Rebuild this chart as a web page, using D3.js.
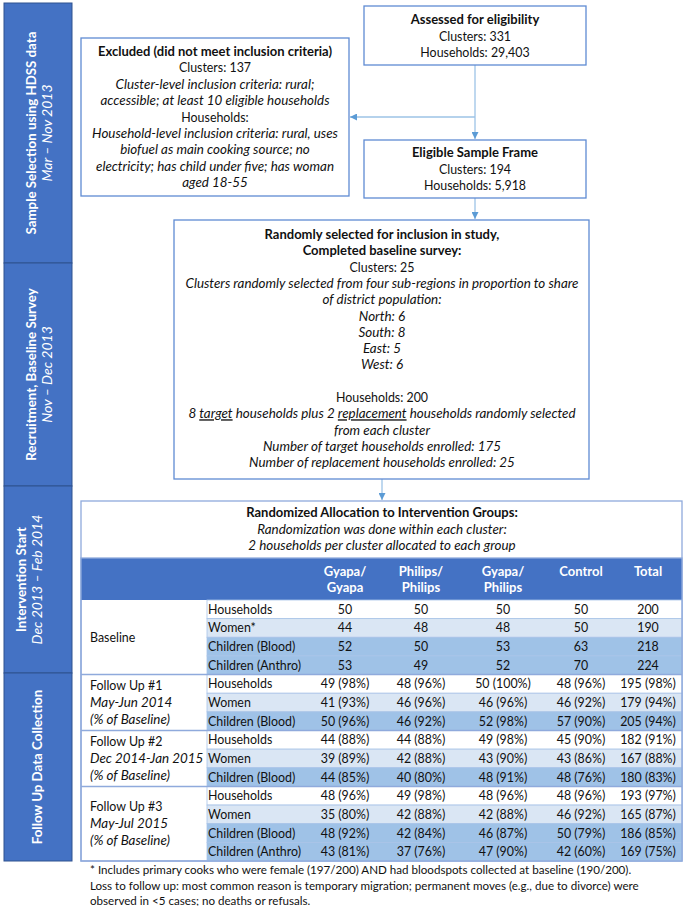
<!DOCTYPE html>
<html><head><meta charset="utf-8">
<script src="https://cdn.jsdelivr.net/npm/d3@7"></script>
<style>body{margin:0;background:#fff}svg{display:block}text{font-family:Lato,"Open Sans",sans-serif;fill:#111}</style>
</head><body>
<script>
// ---------- DATA ----------
const sidebarTitles = ["Sample Selection using HDSS data","Recruitment, Baseline Survey","Intervention Start","Follow Up Data Collection"];
const sidebarSubs = ["Mar – Nov 2013","Nov – Dec 2013","Dec 2013 – Feb 2014",""];

const assessedLines = [["Assessed for eligibility","b"],["Clusters: 331",""],["Households: 29,403",""]];
const eligibleLines = [["Eligible Sample Frame","b"],["Clusters: 194",""],["Households: 5,918",""]];
const excludedLines = [["Excluded (did not meet inclusion criteria)","b"],["Clusters: 137",""],
  ["Cluster-level inclusion criteria: rural;","i"],["accessible; at least 10 eligible households","i"],
  ["Households:",""],["Household-level inclusion criteria: rural, uses","i"],["biofuel as main cooking source; no","i"],
  ["electricity; has child under five; has woman","i"],["aged 18-55","i"]];
const randomLines = [["Randomly selected for inclusion in study,","b"],["Completed baseline survey:","b"],["Clusters: 25",""],
  ["Clusters randomly selected from four sub-regions in proportion to share","i"],["of district population:","i"],
  ["North: 6","i"],["South: 8","i"],["East: 5","i"],["West: 6","i"],["",""],["Households: 200",""],
  ["8 |target| households plus 2 |replacement| households randomly selected","i"],["from each cluster","i"],
  ["Number of target households enrolled: 175","i"],["Number of replacement households enrolled: 25","i"]];
const allocLines = [["Randomized Allocation to Intervention Groups:","b"],["Randomization was done within each cluster:","i"],
  ["2 households per cluster allocated to each group","i"]];

const groupNames = [["Baseline"],["Follow Up #1","May-Jun 2014","(% of Baseline)"],["Follow Up #2","Dec 2014-Jan 2015","(% of Baseline)"],["Follow Up #3","May-Jul 2015","(% of Baseline)"]];
const columnHeaders = [["Gyapa/","Gyapa"],["Philips/","Philips"],["Gyapa/","Philips"],["Control"],["Total"]];
const measures = [["Households","Women*","Children (Blood)","Children (Anthro)"],["Households","Women","Children (Blood)"],["Households","Women","Children (Blood)"],["Households","Women","Children (Blood)","Children (Anthro)"]];
const baselineCounts = [[50,50,50,50,200],[44,48,48,50,190],[52,50,53,63,218],[53,49,52,70,224]];
const fu1Counts = [[49,48,50,48,195],[41,46,46,46,179],[50,46,52,57,205]];
const fu1Pct    = [[98,96,100,96,98],[93,96,96,92,94],[96,92,98,90,94]];
const fu2Counts = [[44,44,49,45,182],[39,42,43,43,167],[44,40,48,48,180]];
const fu2Pct    = [[88,88,98,90,91],[89,88,90,86,88],[85,80,91,76,83]];
const fu3Counts = [[48,49,48,48,193],[35,42,42,46,165],[48,42,46,50,186],[43,37,47,42,169]];
const fu3Pct    = [[96,98,96,96,97],[80,88,88,92,87],[92,84,87,79,85],[81,76,90,60,75]];
const footnotes = ["* Includes primary cooks who were female (197/200) AND had bloodspots collected at baseline (190/200).",
  "Loss to follow up: most common reason is temporary migration; permanent moves (e.g., due to divorce) were",
  "observed in <5 cases; no deaths or refusals."];

// ---------- DRAW ----------
const W=685,H=906, FS=12.4, FSB=13.0, FSI=13.4;
const svg=d3.select("body").append("svg").attr("width",W).attr("height",H);
const BLUE="#4472C4", BOX="#5F8BD3", ARROW="#9DC3E6", AHEAD="#5B9BD5";

svg.append("defs").append("marker").attr("id","ah").attr("viewBox","0 0 10 10").attr("refX",10).attr("refY",5)
  .attr("markerWidth",7).attr("markerHeight",7).attr("orient","auto-start-reverse").attr("markerUnits","userSpaceOnUse")
  .append("path").attr("d","M0,0L10,5L0,10Z").attr("fill",AHEAD);

// sidebar
const secY=[3,263,486,673,861];
const sb=svg.append("g");
sidebarTitles.forEach((t,i)=>{
  const y0=secY[i],y1=secY[i+1],cy=(y0+y1)/2;
  sb.append("rect").attr("x",4).attr("y",y0).attr("width",68).attr("height",y1-y0).attr("fill",BLUE).attr("stroke","#2F528F").attr("stroke-width",1);
  const hasSub=sidebarSubs[i]!=="";
  const tx=hasSub?(i===2?26:36):42;
  const g=sb.append("g").attr("transform",`translate(${tx},${cy}) rotate(-90)`);
  g.append("text").attr("text-anchor","middle").attr("font-weight","bold").attr("font-size",13.3).style("fill","#fff").text(t);
  if(hasSub) g.append("text").attr("y",16).attr("text-anchor","middle").attr("font-style","italic").attr("font-size",14).style("fill","#fff").text(sidebarSubs[i]);
});

const fsFor=s=>s==="b"?FSB:s==="i"?FSI:FS;
function writeLines(cx,y0,dy,arr){
  const g=svg.append("g");
  arr.forEach((l,k)=>{
    const t=g.append("text").attr("x",cx).attr("y",y0+k*dy).attr("text-anchor","middle").attr("font-size",fsFor(l[1]))
      .attr("font-weight",l[1]==="b"?"bold":"normal").attr("font-style",l[1]==="i"?"italic":"normal");
    l[0].split("|").forEach((p,j)=>{ const s=t.append("tspan").text(p); if(j%2===1) s.attr("text-decoration","underline"); });
  });
}
function box(x0,y0,x1,y1,stroke){
  svg.append("rect").attr("x",x0).attr("y",y0).attr("width",x1-x0).attr("height",y1-y0).attr("fill","#fff").attr("stroke",stroke||BOX).attr("stroke-width",1.3);
}
function arrow(pts){
  svg.append("path").attr("d",d3.line()(pts)).attr("fill","none").attr("stroke",ARROW).attr("stroke-width",1.3).attr("marker-end","url(#ah)");
}

// arrows
arrow([[475,65],[475,139]]);
arrow([[475,117],[350,117]]);
arrow([[475,198],[475,219]]);
arrow([[382,479],[382,500]]);

box(364,6,586,65); writeLines(475,24,16.5,assessedLines);
box(364,140,586,198); writeLines(475,157,16.5,eligibleLines);
box(81,38,349,196); writeLines(215,56,16.4,excludedLines);
box(174,220,589,479); writeLines(382,239,16.3,randomLines);

// table
const TX0=81,TX1=682,TY0=501,THead=558,TBody=600,TY1=861;
box(TX0,TY0,TX1,TY1,"#8FAADC");
writeLines(382,517,16.5,allocLines);
svg.append("rect").attr("x",TX0).attr("y",THead).attr("width",TX1-TX0).attr("height",TBody-THead).attr("fill",BLUE);
const colX=d3.scaleOrdinal().domain(d3.range(5)).range([345,421,503,581,648]);
columnHeaders.forEach((h,c)=>h.forEach((s,k)=>svg.append("text").attr("x",colX(c)).attr("y",576+k*16).attr("text-anchor","middle")
  .attr("font-weight","bold").attr("font-size",FSB).style("fill","#fff").text(s)));

const groupsCounts=[baselineCounts,fu1Counts,fu2Counts,fu3Counts];
const groupsPct=[null,fu1Pct,fu2Pct,fu3Pct];
const nRows=d3.sum(measures,m=>m.length);
const y=d3.scaleBand().domain(d3.range(nRows)).range([TBody,TY1]);
const rowFill=m=>m.startsWith("Households")?"#FFFFFF":m.startsWith("Women")?"#DAE6F4":"#9FC2E7";
let r=0;
const tb=svg.append("g");
measures.forEach((ms,gi)=>{
  const r0=r;
  ms.forEach((m,mi)=>{
    const yy=y(r);
    tb.append("rect").attr("x",207).attr("y",yy).attr("width",TX1-207).attr("height",y.bandwidth()).attr("fill",rowFill(m)).attr("stroke","#A9C4E8").attr("stroke-width",0.8);
    tb.append("text").attr("x",208).attr("y",yy+y.bandwidth()/2+4.5).attr("font-size",FS).text(m);
    groupsCounts[gi][mi].forEach((v,c)=>{
      const s=groupsPct[gi]?`${v} (${groupsPct[gi][mi][c]}%)`:String(v);
      tb.append("text").attr("x",colX(c)).attr("y",yy+y.bandwidth()/2+4.5).attr("text-anchor","middle").attr("font-size",FS).text(s);
    });
    r++;
  });
  const gy0=y(r0), gy1=y(r-1)+y.bandwidth(), gc=(gy0+gy1)/2;
  const nm=groupNames[gi];
  nm.forEach((s,k)=>tb.append("text").attr("x",90).attr("y",gc+4.5+(k-(nm.length-1)/2)*17).attr("font-size",k>0?FSI:FS)
    .attr("font-style",k>0?"italic":"normal").text(s));
  if(gi>0) tb.append("line").attr("x1",TX0).attr("x2",TX1).attr("y1",gy0).attr("y2",gy0).attr("stroke","#8FAADC").attr("stroke-width",1.5);
});
svg.append("rect").attr("x",TX0).attr("y",THead).attr("width",TX1-TX0).attr("height",TY1-THead).attr("fill","none").attr("stroke","#8FAADC").attr("stroke-width",1.3);

footnotes.forEach((f,k)=>svg.append("text").attr("x",90).attr("y",874+k*15.5).attr("font-size",11.6).text(f));
</script>
</body></html>
